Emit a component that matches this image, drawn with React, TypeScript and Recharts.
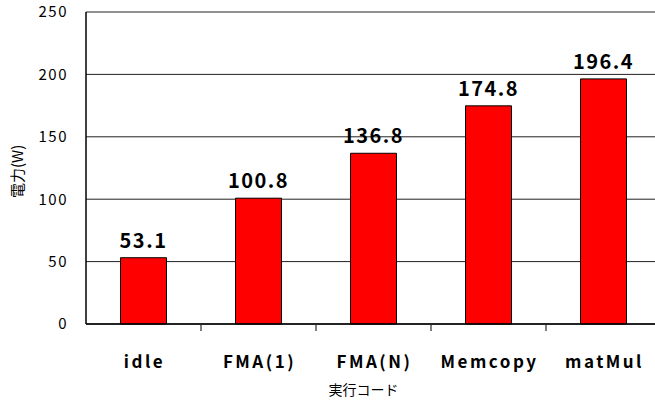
import { BarChart, Bar, XAxis, YAxis, CartesianGrid, LabelList } from 'recharts'

const codes = ['idle', 'FMA(1)', 'FMA(N)', 'Memcopy', 'matMul']
const power = [53.1, 100.8, 136.8, 174.8, 196.4]
const yTicks = [0, 50, 100, 150, 200, 250]

const data = codes.map((code, i) => ({ code, power: power[i] }))

const font = '"Noto Sans CJK JP", "DejaVu Sans", sans-serif'

// category tick: bold name below, plus a small divider mark at the band edge
function CodeTick(props: any) {
  const { x, y, payload, index } = props
  const half = 57.5
  return (
    <g>
      {index < codes.length - 1 && (
        <line x1={x + half} x2={x + half} y1={y - 7} y2={y - 1} stroke="#000" />
      )}
      <text
        x={x + 1}
        y={y + 36}
        textAnchor="middle"
        fontFamily={font}
        fontWeight="bold"
        fontSize={17}
        letterSpacing={2.5}
        fill="#000"
      >
        {payload.value}
      </text>
    </g>
  )
}

export default function App() {
  return (
    <div style={{ position: 'absolute', left: 0, top: 0, width: 655, height: 403, overflow: 'hidden', background: '#fff' }}>
      <BarChart
        width={661}
        height={403}
        data={data}
        margin={{ top: 12, right: 0, bottom: 0, left: 0 }}
        barCategoryGap="30%"
      >
        <CartesianGrid horizontal vertical={false} stroke="#222" strokeWidth={1} />
        <XAxis
          dataKey="code"
          height={79}
          axisLine={{ stroke: '#000', strokeWidth: 1.5 }}
          tickLine={false}
          interval={0}
          tick={<CodeTick />}
          label={{ value: '実行コード', position: 'insideBottom', offset: 8, dx: -10, fontFamily: font, fontSize: 14, fill: '#000' }}
        />
        <YAxis
          width={86}
          domain={[0, 250]}
          ticks={yTicks}
          axisLine={{ stroke: '#000', strokeWidth: 1.5 }}
          tickLine={false}
          tickMargin={12}
          tick={{ fontFamily: font, fontSize: 15, fill: '#000', letterSpacing: 1.5 }}
          label={{ value: '電力(W)', angle: -90, position: 'insideLeft', offset: 18, dy: 30, fontFamily: font, fontSize: 15, fill: '#000' }}
        />
        <Bar dataKey="power" fill="#ff0000" stroke="#000" strokeWidth={1} isAnimationActive={false}>
          <LabelList
            dataKey="power"
            position="top"
            offset={10}
            formatter={(v: any) => Number(v).toFixed(1)}
            style={{ fontFamily: font, fontWeight: 'bold', fontSize: 20, fill: '#000', letterSpacing: 1.5 }}
          />
        </Bar>
      </BarChart>
    </div>
  )
}
